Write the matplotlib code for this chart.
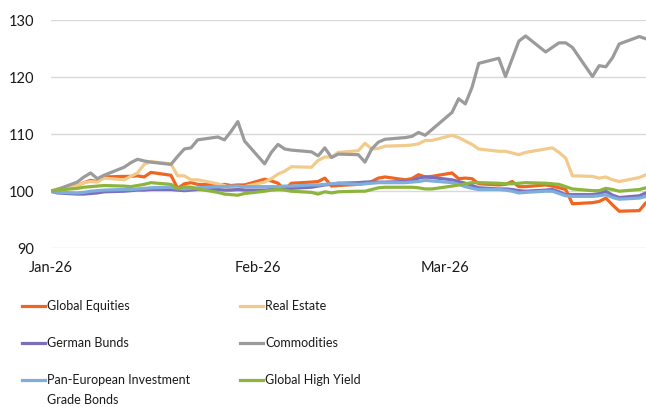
import matplotlib
matplotlib.use('Agg')
import matplotlib.pyplot as plt
import matplotlib.dates as mdates
from matplotlib.lines import Line2D
import datetime as dt

# ---- data -------------------------------------------------------------
jan_days = [1, 2, 5, 6, 7, 8, 9, 12, 13, 14, 15, 16, 19, 20, 21, 22, 23, 26, 27, 28, 29, 30]
feb_days = [2, 3, 4, 5, 6, 9, 10, 11, 12, 13, 16, 17, 18, 19, 20, 23, 24, 25, 26, 27]
mar_days = [2, 3, 4, 5, 6, 9, 10, 11, 12, 13, 16, 17, 18, 19, 20, 23, 24, 25, 26, 27, 30, 31]
dates = ([dt.date(2026, 1, d) for d in jan_days] + [dt.date(2026, 2, d) for d in feb_days]
         + [dt.date(2026, 3, d) for d in mar_days])

global_equities = [
    100, 100.3, 101.0, 101.5, 101.9, 101.7, 102.5, 102.6, 102.6, 102.7, 102.5, 103.3, 102.8, 100.5, 101.3, 101.5, 101.2, 101.1, 101.2, 101.0, 101.1, 101.1,
    102.1, 101.8, 101.4, 100.3, 101.4, 101.6, 101.7, 102.3, 100.9, 101.0, 101.2, 101.4, 101.7, 102.3, 102.5, 102.0, 102.2, 102.9, 102.5, 102.6,
    103.2, 102.2, 102.3, 102.2, 101.3, 101.1, 101.2, 101.7, 100.8, 100.8, 101.1, 100.9, 100.6, 100.3, 97.8, 98.0, 98.2, 98.8, 97.6, 96.5, 96.6, 98.0]
real_estate = [
    100, 100.4, 101.0, 101.5, 101.7, 101.6, 102.3, 102.0, 102.6, 103.2, 104.7, 105.2, 104.8, 102.7, 102.7, 102.0, 102.0, 101.3, 101.0, 100.5, 100.1, 100.8,
    101.6, 102.2, 103.0, 103.5, 104.3, 104.2, 105.4, 106.0, 106.0, 106.8, 107.1, 108.4, 107.4, 107.5, 107.9, 108.0, 108.1, 108.3, 108.9, 108.9,
    109.8, 109.4, 108.8, 108.2, 107.4, 107.0, 107.0, 106.7, 106.4, 106.8, 107.4, 107.6, 106.8, 105.8, 102.7, 102.6, 102.3, 102.5, 102.0, 101.7, 102.4, 102.9]
german_bunds = [
    100, 99.7, 99.5, 99.5, 99.6, 99.7, 99.9, 100.0, 100.1, 100.2, 100.2, 100.3, 100.3, 100.2, 100.1, 100.2, 100.3, 100.3, 100.2, 100.2, 100.3, 100.2,
    100.2, 100.3, 100.3, 100.4, 100.5, 100.7, 100.9, 101.1, 101.2, 101.4, 101.5, 101.6, 101.6, 101.6, 101.6, 101.7, 101.8, 102.3, 102.5, 102.4,
    102.0, 101.7, 101.4, 101.0, 100.6, 100.4, 100.4, 100.3, 100.1, 100.0, 100.2, 100.3, 99.9, 99.4, 99.4, 99.4, 99.6, 100.0, 99.3, 98.9, 99.2, 99.7]
commodities = [
    100, 100.3, 101.6, 102.5, 103.2, 102.2, 102.8, 104.2, 105.0, 105.6, 105.3, 105.1, 104.7, 106.1, 107.4, 107.6, 109.0, 109.5, 109.0, 110.5, 112.2, 108.8,
    104.8, 106.8, 108.2, 107.4, 107.2, 106.9, 106.2, 107.6, 105.9, 106.5, 106.4, 105.1, 107.4, 108.6, 109.1, 109.4, 109.6, 110.3, 109.8, 110.8,
    113.8, 116.2, 115.3, 118.2, 122.4, 123.3, 120.1, 123.2, 126.3, 127.2, 124.4, 125.2, 126.0, 126.0, 125.2, 120.1, 122.0, 121.8, 123.4, 125.8, 127.1, 126.7]
pan_european_ig = [
    100, 99.8, 99.7, 99.8, 100.0, 100.1, 100.2, 100.3, 100.3, 100.4, 100.5, 100.6, 100.7, 100.5, 100.4, 100.5, 100.6, 100.8, 100.8, 100.9, 100.9, 100.8,
    100.8, 100.8, 100.8, 100.9, 100.9, 101.1, 101.1, 101.2, 101.3, 101.4, 101.2, 101.3, 101.4, 101.5, 101.5, 101.5, 101.6, 101.7, 101.9, 101.8,
    101.5, 101.2, 100.8, 100.5, 100.3, 100.3, 100.2, 100.0, 99.7, 99.8, 100.0, 100.0, 99.6, 99.2, 99.1, 99.1, 99.2, 99.4, 98.9, 98.6, 98.8, 99.1]
global_high_yield = [
    100, 100.2, 100.5, 100.7, 100.8, 100.9, 101.0, 100.9, 100.8, 101.0, 101.2, 101.5, 101.2, 100.4, 100.8, 100.7, 100.4, 99.8, 99.5, 99.4, 99.3, 99.6,
    100.0, 100.2, 100.3, 100.2, 100.0, 99.8, 99.5, 99.9, 99.7, 99.9, 100.0, 100.0, 100.3, 100.6, 100.7, 100.7, 100.7, 100.6, 100.4, 100.4,
    100.9, 101.1, 101.3, 101.5, 101.5, 101.4, 101.3, 101.3, 101.4, 101.5, 101.4, 101.3, 101.2, 100.8, 100.4, 100.1, 100.1, 100.5, 100.3, 100.0, 100.3, 100.6]

series_names = ["Global Equities", "Real Estate", "German Bunds", "Commodities",
                "Pan-European Investment\nGrade Bonds", "Global High Yield"]
series_values = [global_equities, real_estate, german_bunds, commodities,
                 pan_european_ig, global_high_yield]
series_colors = ["#F0651F", "#F2CB8C", "#7A6FBD", "#9B9B9B", "#7FADDC", "#8DB53D"]
y_ticks = [90, 100, 110, 120, 130]

# ---- figure -------------------------------------------------------------
W, H = 646, 407
FONT = "Lato"
plt.rcParams['font.family'] = [FONT, 'DejaVu Sans']
fig = plt.figure(figsize=(W / 100, H / 100), dpi=100)
ax = fig.add_axes([50.5 / W, 1 - 248.3 / H, (W - 50.5) / W, (248.3 - 20) / H])

for vals, col in zip(series_values, series_colors):
    ax.plot(dates, vals, color=col, lw=2.3, solid_joinstyle='round', solid_capstyle='round')

ax.set_ylim(90, 130)
ax.set_yticks(y_ticks)
ax.set_xlim(dt.date(2026, 1, 1), dt.date(2026, 3, 31))
ax.xaxis.set_major_locator(mdates.MonthLocator())
ax.xaxis.set_major_formatter(mdates.DateFormatter('%b-%y'))
ax.yaxis.grid(True, color='#D9D9D9', lw=1.0)
ax.set_axisbelow(True)
for s in ax.spines.values():
    s.set_visible(False)
ax.tick_params(axis='both', length=0, labelsize=10.5, labelcolor='#1A1A1A')
ax.tick_params(axis='y', pad=12)
ax.tick_params(axis='x', pad=9)

# ---- legend (manual, two columns) ----------------------------------------
def fx(x):
    return x / W

def fy(y):
    return 1 - y / H

col_x = [22, 240]
row_y = [306, 343, 380]
for i, (name, col) in enumerate(zip(series_names, series_colors)):
    c, r = i % 2, i // 2
    x0 = col_x[c]
    y0 = row_y[r]
    fig.add_artist(Line2D([fx(x0), fx(x0 + 23)], [fy(y0), fy(y0)], color=col, lw=2.3,
                          transform=fig.transFigure))
    lines = name.split("\n")
    for k, ln in enumerate(lines):
        fig.text(fx(x0 + 25), fy(y0 + 19.5 * k), ln, fontsize=9, color='#1A1A1A',
                 va='center', ha='left')

fig.savefig("out.png", dpi=100)
